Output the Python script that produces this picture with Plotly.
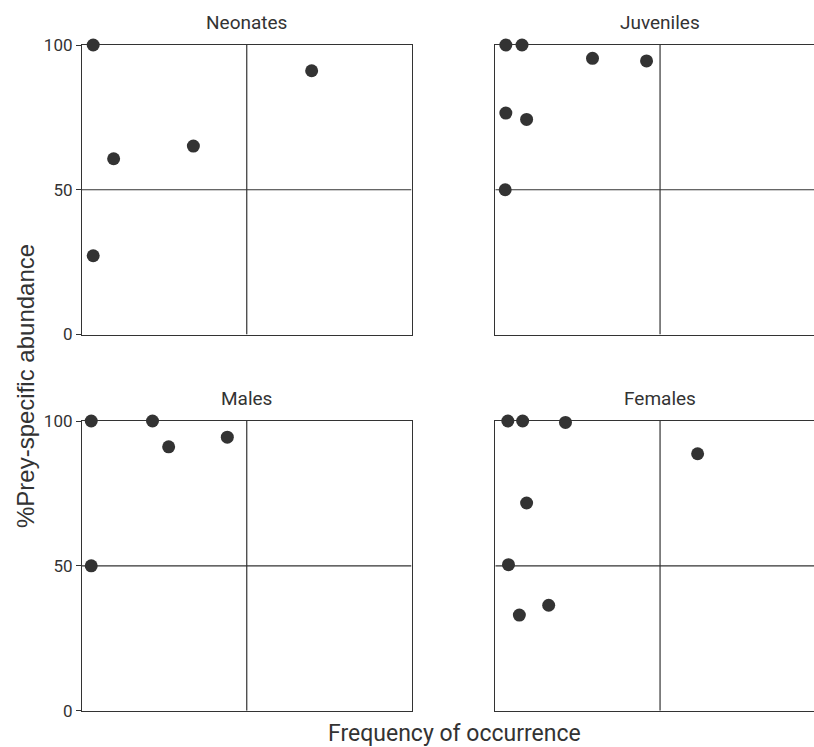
import plotly.graph_objects as go

# ---- data ----
panels = ["Neonates", "Juveniles", "Males", "Females"]
neonates_x = [3.4, 9.6, 33.8, 69.7, 3.4]
neonates_y = [100, 60.7, 65.1, 91.1, 27.2]
juveniles_x = [3.2, 8.1, 29.5, 45.9, 3.2, 9.5, 3.0]
juveniles_y = [100, 100, 95.4, 94.5, 76.5, 74.3, 50.0]
males_x = [2.8, 21.4, 26.3, 44.1, 2.8]
males_y = [100, 100, 91.1, 94.4, 50]
females_x = [3.8, 8.3, 21.3, 61.4, 9.5, 4.0, 7.3, 16.2]
females_y = [100, 100, 99.5, 88.7, 71.7, 50.4, 33.0, 36.4]
y_ticks = [0, 50, 100]
y_tick_labels = ["0", "50", "100"]
mid_value = 50
x_title = "Frequency of occurrence"
y_title = "%Prey-specific abundance"

series = [(neonates_x, neonates_y), (juveniles_x, juveniles_y),
          (males_x, males_y), (females_x, females_y)]

W, H = 814, 747
INK = "#333333"
NARROW = "Roboto, Liberation Sans Narrow, sans-serif"
REG = "Liberation Sans, Arial, sans-serif"

left_dom = [82 / W, 411.5 / W]
right_dom = [495.3 / W, 1.0]
right_max = (W - 495.3) / 329.5 * 100
top_dom = [1 - 334.5 / H, 1 - 45 / H]
bot_dom = [1 - 710.7 / H, 1 - 421 / H]

fig = go.Figure()
layout = dict(template="none", width=W, height=H, autosize=False,
              margin=dict(l=0, r=0, t=0, b=0, pad=0, autoexpand=False),
              paper_bgcolor="white", plot_bgcolor="white", showlegend=False)

cfg = [(left_dom, top_dom, True), (right_dom, top_dom, False),
       (left_dom, bot_dom, True), (right_dom, bot_dom, False)]

shapes = []
annotations = []
for i, ((xs, ys), (xd, yd, is_left)) in enumerate(zip(series, cfg)):
    n = i + 1
    xa = "x" if n == 1 else f"x{n}"
    ya = "y" if n == 1 else f"y{n}"
    fig.add_trace(go.Scatter(x=xs, y=ys, mode="markers", xaxis=xa, yaxis=ya,
                             marker=dict(size=13, color=INK, line=dict(width=0)),
                             cliponaxis=False, hoverinfo="x+y"))
    xr = [0, 100] if is_left else [0, right_max]
    layout["xaxis" if n == 1 else f"xaxis{n}"] = dict(
        domain=xd, range=xr, anchor=ya, showline=True, mirror=True,
        linecolor=INK, linewidth=1.2, showgrid=False, zeroline=False,
        showticklabels=False, ticks="", automargin=False)
    layout["yaxis" if n == 1 else f"yaxis{n}"] = dict(
        domain=yd, range=[0, 100], anchor=xa, showline=True, mirror=is_left,
        linecolor=INK, linewidth=1.2, showgrid=False, zeroline=False,
        tickmode="array", tickvals=y_ticks, ticktext=y_tick_labels,
        showticklabels=is_left, ticks="outside" if is_left else "",
        ticklen=5, tickcolor=INK, tickwidth=1.2, automargin=False,
        tickfont=dict(family=NARROW, size=17, color=INK))
    shapes.append(dict(type="line", xref=xa, yref=ya, x0=mid_value, x1=mid_value,
                       y0=0, y1=100, line=dict(color=INK, width=1.2), layer="below"))
    shapes.append(dict(type="line", xref=xa, yref=ya, x0=0, x1=xr[1],
                       y0=mid_value, y1=mid_value, line=dict(color=INK, width=1.2),
                       layer="below"))
    annotations.append(dict(text=panels[i], xref=xa, x=mid_value, yref="paper",
                            y=yd[1], yanchor="bottom", yshift=9, xanchor="center",
                            showarrow=False,
                            font=dict(family=NARROW, size=19, color=INK)))

annotations.append(dict(text=x_title, xref="paper", x=454 / W, yref="paper", y=0,
                        yanchor="bottom", yshift=-2, xanchor="center", showarrow=False,
                        font=dict(family=NARROW, size=23, color=INK)))
annotations.append(dict(text=y_title, xref="paper", x=25 / W, yref="paper",
                        y=1 - 386 / H, xanchor="center", yanchor="middle",
                        textangle=-90, showarrow=False,
                        font=dict(family=REG, size=24, color=INK)))

layout["shapes"] = shapes
layout["annotations"] = annotations
fig.update_layout(**layout)
fig.write_html("out.html", config={"displayModeBar": False},
               post_script="document.body.style.margin='0';"
                           "document.documentElement.style.overflow='hidden';")
